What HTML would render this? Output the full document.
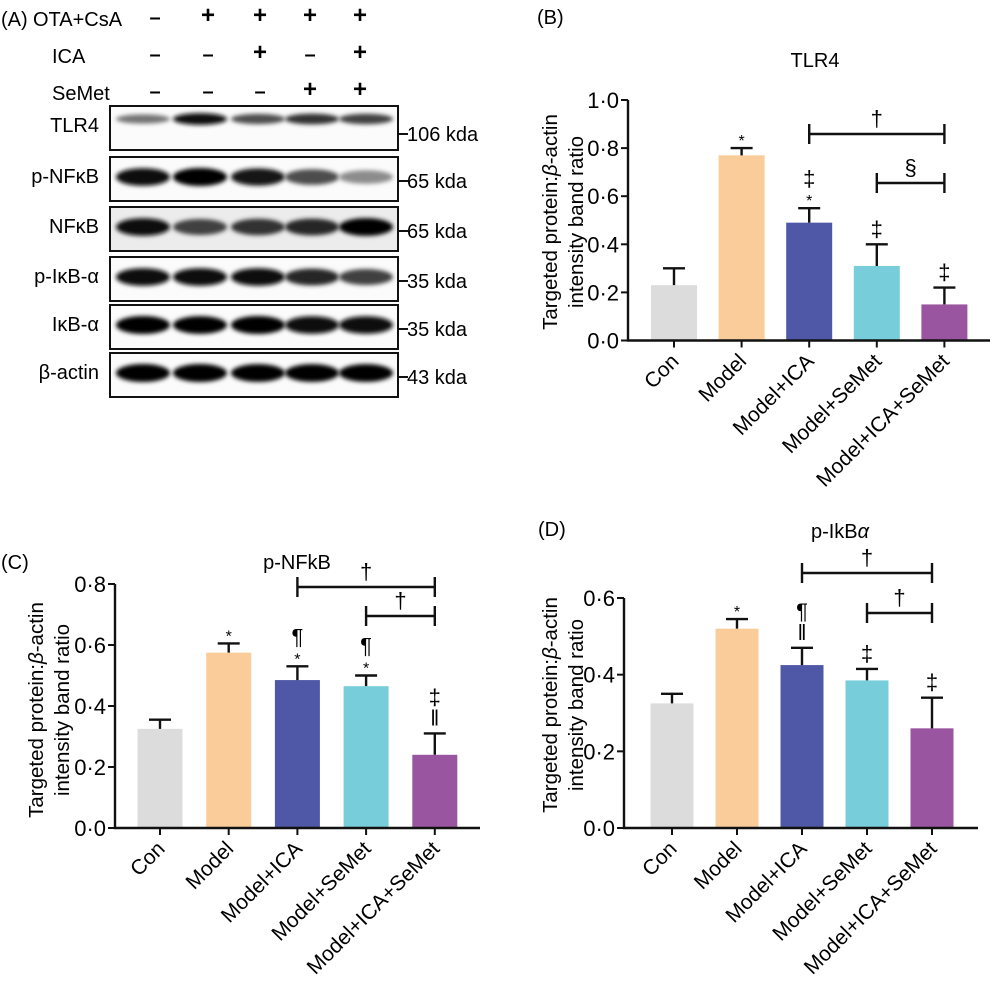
<!DOCTYPE html>
<html><head><meta charset="utf-8"><style>
html,body{margin:0;padding:0;background:#fff;}
svg{display:block;font-family:"Liberation Sans",Arial,sans-serif;}
</style></head><body>
<svg id="fig" width="996" height="989" viewBox="0 0 996 989" xmlns="http://www.w3.org/2000/svg">
<defs>
<filter id="blur" x="-20%" y="-100%" width="140%" height="300%"><feGaussianBlur stdDeviation="2"/></filter>
</defs>
<g id="blot"></g>
<g id="chartB"></g>
<g id="chartC"></g>
<g id="chartD"></g>
</svg>
<script>
const categories = ["Con","Model","Model+ICA","Model+SeMet","Model+ICA+SeMet"];
const colors = ["#dcdcdc","#f9cc9a","#4e58a6","#77cdd9","#9a55a0"];
// TLR4
const tlr4Values = [0.23,0.77,0.49,0.31,0.15];
const tlr4ErrTop = [0.30,0.80,0.55,0.40,0.22];
const tlr4Ticks = ["0·0","0·2","0·4","0·6","0·8","1·0"];
const tlr4Marks = [[],["*"],["*","‡"],["‡"],["‡"]];
// p-NFkB
const nfkbValues = [0.325,0.575,0.485,0.465,0.24];
const nfkbErrTop = [0.355,0.605,0.53,0.50,0.31];
const nfkbTicks = ["0·0","0·2","0·4","0·6","0·8"];
const nfkbMarks = [[],["*"],["*","¶"],["*","¶"],["‖","‡"]];
// p-IkBa
const ikbValues = [0.325,0.52,0.425,0.385,0.26];
const ikbErrTop = [0.35,0.545,0.47,0.415,0.34];
const ikbTicks = ["0·0","0·2","0·4","0·6"];
const ikbMarks = [[],["*"],["‖","¶"],["‡"],["‡"]];
// blot
const blotRows = ["TLR4","p-NFκB","NFκB","p-IκB-α","IκB-α","β-actin"];
const blotKda = ["106 kda","65 kda","65 kda","35 kda","35 kda","43 kda"];
const bandIntensity = [
 [0.55,0.95,0.7,0.8,0.75],
 [0.95,1.0,0.9,0.7,0.45],
 [0.95,0.75,0.8,0.85,0.98],
 [0.95,0.95,0.95,0.85,0.75],
 [1.0,0.98,1.0,0.95,0.95],
 [1.0,1.0,0.98,0.98,0.98]];
const headerRows = ["OTA+CsA","ICA","SeMet"];
const headerSigns = [["-","+","+","+","+"],["-","-","+","-","+"],["-","-","-","+","+"]];

const NS="http://www.w3.org/2000/svg";
function mk(parent,tag,attrs,text){const e=document.createElementNS(NS,tag);for(const k in attrs)e.setAttribute(k,attrs[k]);if(text!==undefined)e.textContent=text;parent.appendChild(e);return e;}

// ---- Blot panel ----
(function(){
 const g=document.getElementById('blot');
 const lab=mk(g,'text',{x:1,y:26,'font-size':20},'(A)');
 
 
 const hdrX=[155,208,260,310,360];
 const hdrY=[19,56,93];
 headerRows.forEach((r,i)=>{
  const t=mk(g,'text',{x:(i===0?33:52),y:hdrY[i]+7,'font-size':20},r);
  
  
  headerSigns[i].forEach((s,j)=>{
   const st=mk(g,'text',{x:hdrX[j],y:hdrY[i]+(s==='+'?4:5),'font-size':s==='+'?24:20,'font-weight':'bold','text-anchor':'middle'},s==='-'?'–':'+');
   
   
  });
 });
 const rowTop=[106,157,207,257,305,353];
 const rowH=44;
 const laneX=[143,200,258,312,366];
 rowTop.forEach((y,i)=>{
  const box=mk(g,'rect',{x:110,y:y,width:288,height:rowH,fill:i===2?'#ececec':'#fbfbfb',stroke:'#111','stroke-width':2});
  
  
  const by=(i===0)?y+13:y+rowH/2-2;
  bandIntensity[i].forEach((v,j)=>{
   const gr=Math.round(255*(1-v));
   const b=mk(g,'ellipse',{cx:laneX[j],cy:by,rx:27,ry:(i===0?3+3*v:5+4*v),fill:`rgb(${gr},${gr},${gr})`,filter:'url(#blur)'});
   
   
  });
  const nm=mk(g,'text',{x:99,y:y+rowH/2+4,'font-size':20,'text-anchor':'end'},blotRows[i]);
  
  
  const ty=(i===0)?y+28:y+rowH/2+2;
  mk(g,'line',{x1:398,x2:408,y1:ty,y2:ty,stroke:'#111','stroke-width':2});
  const kd=mk(g,'text',{x:407,y:ty+7,'font-size':20},blotKda[i]);
  
  
 });
})();

// ---- Bar charts ----
function drawChart(id,cfg,values,errTop,ticks,marks,brackets){
 const g=document.getElementById(id);
 const y=v=>cfg.y0-(v/cfg.max)*(cfg.y0-cfg.yTop);
 const x=i=>cfg.x0+i*cfg.step;
 const pl=mk(g,'text',{x:cfg.plX,y:cfg.plY,'font-size':20},cfg.panel);
 
 
 const tt=mk(g,'text',{x:cfg.titleX,y:cfg.titleY,'font-size':20,'text-anchor':'middle'},'');
 tt.innerHTML=cfg.title;
 
 
 const yt=mk(g,'text',{transform:`translate(${cfg.ytX},${cfg.ytY}) rotate(-90)`,'font-size':20.5,'text-anchor':'middle'});
 yt.innerHTML='<tspan x="0" dy="0">Targeted protein:<tspan font-style="italic">β</tspan>-actin</tspan><tspan x="0" dy="26">intensity band ratio</tspan>';
 
 
 values.forEach((v,i)=>{
  const cx=x(i);
  const r=mk(g,'rect',{x:cx-cfg.bw/2,y:y(v),width:cfg.bw,height:cfg.y0-y(v),fill:colors[i]});
  
  
  const e=mk(g,'path',{d:`M${cx},${y(v)}V${y(errTop[i])}M${cx-11},${y(errTop[i])}H${cx+11}`,stroke:'#111','stroke-width':2.4,fill:'none'});
  
  
  let my=y(errTop[i])-8;
  marks[i].forEach(m=>{
   const small=(m==='*');
   const t=mk(g,'text',{x:cx,y:small?my+6:my,'font-size':small?16:22,'text-anchor':'middle'},m);
   
   
   my-= small?14:21;
  });
 });
 mk(g,'path',{d:`M${cfg.axX},${cfg.yTop}V${cfg.y0}H${cfg.xEnd}`,stroke:'#111','stroke-width':2.4,fill:'none'});
 ticks.forEach((t,k)=>{
  const v=k*cfg.max/(ticks.length-1);
  mk(g,'line',{x1:cfg.axX-7,x2:cfg.axX,y1:y(v),y2:y(v),stroke:'#111','stroke-width':2});
  const tl=mk(g,'text',{x:cfg.axX-9,y:y(v)+8,'font-size':22,'text-anchor':'end'},t);
  
  
 });
 categories.forEach((c,i)=>{
  const cx=x(i);
  mk(g,'line',{x1:cx,x2:cx,y1:cfg.y0,y2:cfg.y0+7,stroke:'#111','stroke-width':2});
  const cl=mk(g,'text',{transform:`translate(${cx+6},${cfg.y0+22}) rotate(-45)`,'font-size':21,'text-anchor':'end'},c);
  
  
 });
 brackets.forEach(b=>{
  const x1=x(b.from),x2=x(b.to);
  const bp=mk(g,'path',{d:`M${x1},${b.y-10}V${b.y+10}M${x1},${b.y}H${x2}M${x2},${b.y-10}V${b.y+10}`,stroke:'#111','stroke-width':2.4,fill:'none'});
  
  
  const bs=mk(g,'text',{x:(x1+x2)/2,y:b.y-8,'font-size':22,'text-anchor':'middle'},b.sym);
  
  
 });
}
drawChart('chartB',{x0:674,step:67.6,bw:46,y0:340.5,yTop:100,max:1.0,axX:628,xEnd:990,
 panel:'(B)',plX:537,plY:24,title:'TLR4',titleX:815,titleY:67,ytX:557,ytY:222},
 tlr4Values,tlr4ErrTop,tlr4Ticks,tlr4Marks,[{from:2,to:4,y:134,sym:'†'},{from:3,to:4,y:183,sym:'§'}]);
drawChart('chartC',{x0:160,step:68.7,bw:45,y0:828,yTop:584,max:0.8,axX:115,xEnd:480,
 panel:'(C)',plX:1,plY:569,title:'p-NFkB',titleX:297,titleY:569,ytX:43,ytY:710},
 nfkbValues,nfkbErrTop,nfkbTicks,nfkbMarks,[{from:2,to:4,y:587,sym:'†'},{from:3,to:4,y:616,sym:'†'}]);
drawChart('chartD',{x0:672,step:65,bw:43,y0:828,yTop:598,max:0.6,axX:624,xEnd:978,
 panel:'(D)',plX:538,plY:536,title:'p-IkB<tspan font-style="italic">α</tspan>',titleX:840,titleY:538,ytX:557,ytY:705},
 ikbValues,ikbErrTop,ikbTicks,ikbMarks,[{from:2,to:4,y:573,sym:'†'},{from:3,to:4,y:613,sym:'†'}]);
</script>
</body></html>
